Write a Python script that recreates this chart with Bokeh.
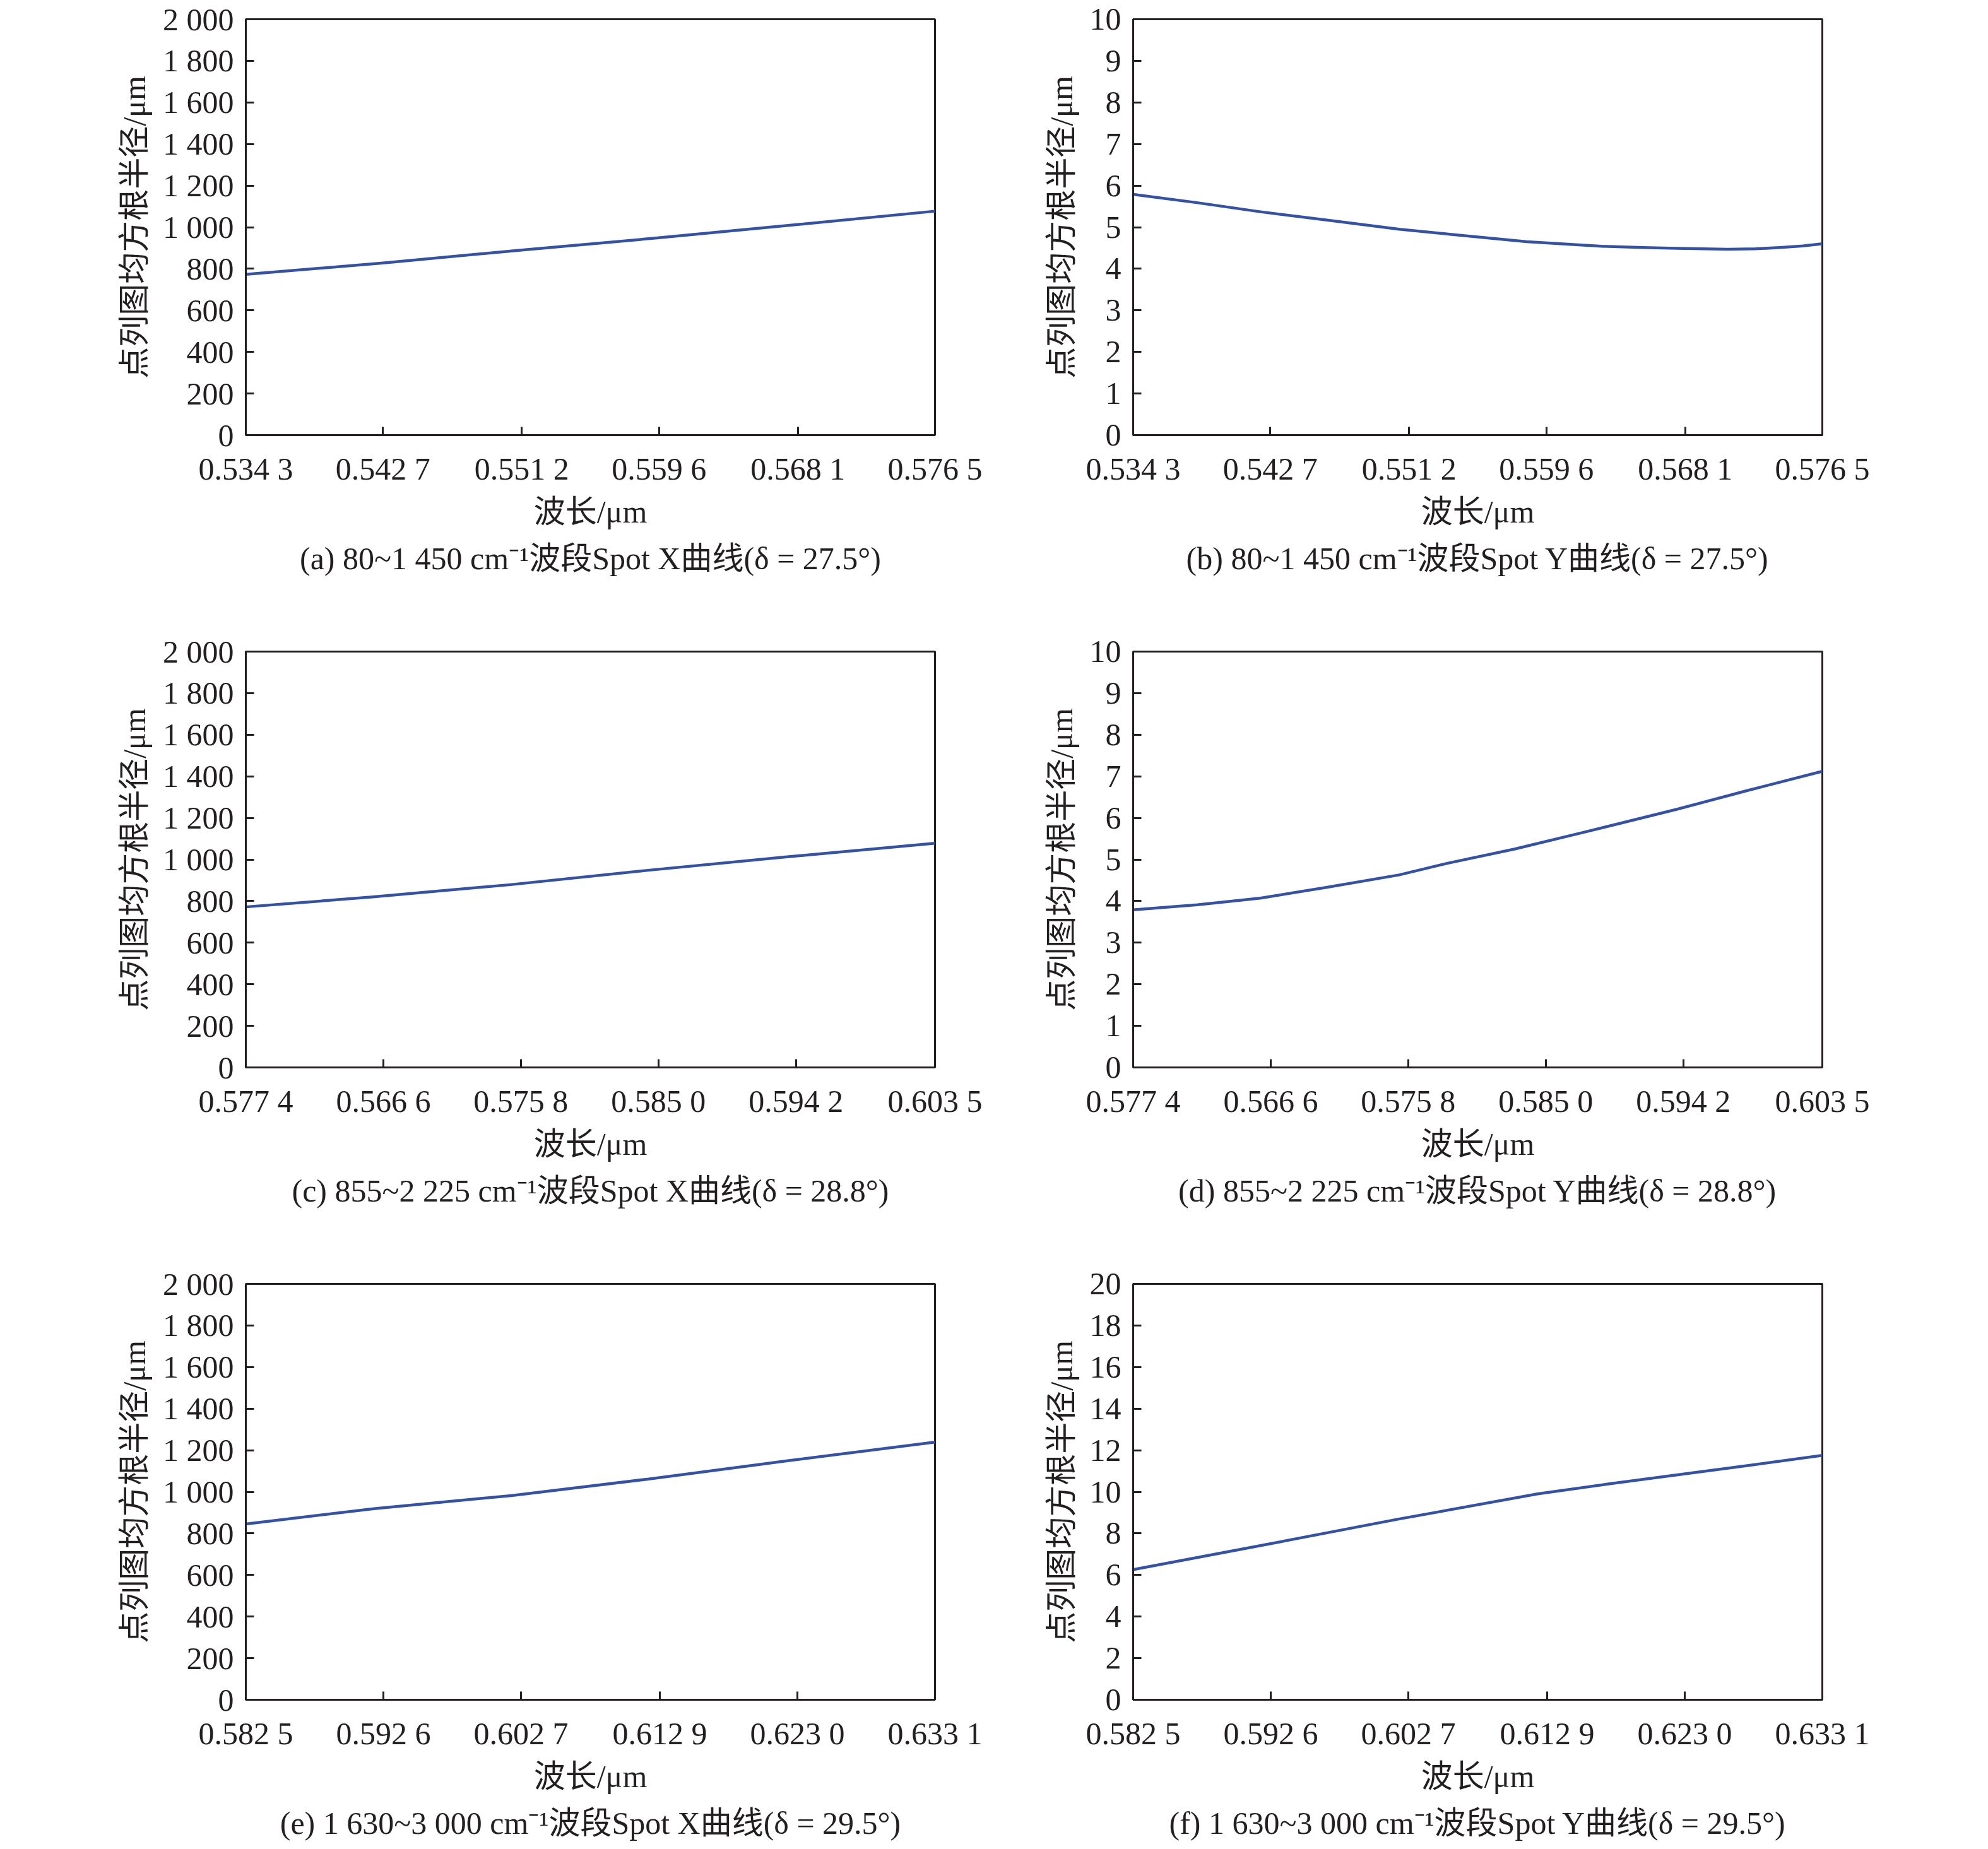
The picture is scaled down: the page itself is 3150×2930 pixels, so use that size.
from bokeh.plotting import figure
from bokeh.models import Range1d, FixedTicker, Title
from bokeh.layouts import column, row
from bokeh.embed import file_html
from bokeh.resources import INLINE

# ---------------- data ----------------
y_axis_label = "点列图均方根半径/μm"
x_axis_label = "波长/μm"

# band 1 (a, b)
ticks_1 = [0.5343, 0.5427, 0.5512, 0.5596, 0.5681, 0.5765]
tick_labels_1 = ["0.534 3", "0.542 7", "0.551 2", "0.559 6", "0.568 1", "0.576 5"]
# band 2 (c, d)
ticks_2 = [0.5574, 0.5666, 0.5758, 0.5850, 0.5942, 0.6035]
tick_labels_2 = ["0.577 4", "0.566 6", "0.575 8", "0.585 0", "0.594 2", "0.603 5"]
# band 3 (e, f)
ticks_3 = [0.5825, 0.5926, 0.6027, 0.6129, 0.6230, 0.6331]
tick_labels_3 = ["0.582 5", "0.592 6", "0.602 7", "0.612 9", "0.623 0", "0.633 1"]

y_ticks_x = [0, 200, 400, 600, 800, 1000, 1200, 1400, 1600, 1800, 2000]
y_labels_x = ["0", "200", "400", "600", "800", "1 000", "1 200", "1 400", "1 600", "1 800", "2 000"]
y_ticks_10 = [0, 1, 2, 3, 4, 5, 6, 7, 8, 9, 10]
y_labels_10 = [str(v) for v in y_ticks_10]
y_ticks_20 = [0, 2, 4, 6, 8, 10, 12, 14, 16, 18, 20]
y_labels_20 = [str(v) for v in y_ticks_20]

# (a) Spot X, 80~1 450 cm-1
a_wl = [0.5343, 0.5427, 0.5512, 0.5596, 0.5681, 0.5765]
a_rms = [773, 828, 890, 949, 1013, 1077]
# (b) Spot Y, 80~1 450 cm-1
b_wl = [0.5343, 0.5382, 0.5421, 0.5464, 0.5506, 0.5537, 0.5584, 0.5630, 0.5655, 0.5676,
        0.5692, 0.5707, 0.5724, 0.5739, 0.5753, 0.5765]
b_rms = [5.79, 5.59, 5.37, 5.16, 4.95, 4.83, 4.65, 4.54, 4.51, 4.49,
         4.48, 4.47, 4.48, 4.51, 4.55, 4.60]
# (c) Spot X, 855~2 225 cm-1
c_wl = [0.5574, 0.5659, 0.5751, 0.5843, 0.5935, 0.6035]
c_rms = [772, 820, 879, 948, 1012, 1078]
# (d) Spot Y, 855~2 225 cm-1
d_wl = [0.5574, 0.5617, 0.5659, 0.5705, 0.5752, 0.5783, 0.5829, 0.5875, 0.5938, 0.5984, 0.6035]
d_rms = [3.79, 3.91, 4.07, 4.34, 4.63, 4.90, 5.25, 5.65, 6.21, 6.65, 7.12]
# (e) Spot X, 1 630~3 000 cm-1
e_wl = [0.5825, 0.5919, 0.6020, 0.6120, 0.6222, 0.6331]
e_rms = [845, 919, 982, 1061, 1149, 1239]
# (f) Spot Y, 1 630~3 000 cm-1
f_wl = [0.5825, 0.5919, 0.6020, 0.6122, 0.6174, 0.6224, 0.6275, 0.6331]
f_rms = [6.26, 7.42, 8.69, 9.90, 10.38, 10.81, 11.25, 11.75]

captions = [
    "(a) 80~1 450 cm⁻¹波段Spot X曲线(δ = 27.5°)",
    "(b) 80~1 450 cm⁻¹波段Spot Y曲线(δ = 27.5°)",
    "(c) 855~2 225 cm⁻¹波段Spot X曲线(δ = 28.8°)",
    "(d) 855~2 225 cm⁻¹波段Spot Y曲线(δ = 28.8°)",
    "(e) 1 630~3 000 cm⁻¹波段Spot X曲线(δ = 29.5°)",
    "(f) 1 630~3 000 cm⁻¹波段Spot Y曲线(δ = 29.5°)",
]

# ---------------- style ----------------
FONT = "'Liberation Serif', 'Noto Sans CJK SC'"
FS = "50px"
INK = "#231f20"
LINE = "#3551a4"
FRAME_W = 1092
FRAME_H = 659
TOP = 30


def make_panel(wl, rms, xt, xl, yt, yl, cap, left_border, right_border, bottom_border):
    p = figure(frame_width=FRAME_W, frame_height=FRAME_H,
               min_border_left=left_border, min_border_right=right_border,
               min_border_top=TOP, min_border_bottom=bottom_border,
               x_range=Range1d(xt[0], xt[-1]), y_range=Range1d(yt[0], yt[-1]),
               output_backend="svg", toolbar_location=None,
               x_axis_label=x_axis_label, y_axis_label=y_axis_label)
    p.line(wl, rms, line_color=LINE, line_width=4.5, line_join="round")
    p.grid.visible = False
    p.outline_line_color = INK
    p.outline_line_width = 3
    p.outline_line_alpha = 1
    p.background_fill_color = "white"
    p.border_fill_color = "white"
    for ax, tv, tl in ((p.xaxis[0], xt, xl), (p.yaxis[0], yt, yl)):
        ax.ticker = FixedTicker(ticks=tv)
        ax.major_label_overrides = {v: s for v, s in zip(tv, tl)}
        ax.minor_tick_line_color = None
        ax.major_tick_in = 13
        ax.major_tick_out = 0
        ax.major_tick_line_width = 3
        ax.major_tick_line_color = INK
        ax.axis_line_width = 3
        ax.axis_line_color = INK
        ax.major_label_text_font = FONT
        ax.major_label_text_font_size = FS
        ax.major_label_text_color = INK
        ax.axis_label_text_font = FONT
        ax.axis_label_text_font_size = FS
        ax.axis_label_text_font_style = "normal"
        ax.axis_label_text_color = INK
    p.xaxis[0].major_label_standoff = 25
    p.xaxis[0].axis_label_standoff = 9
    p.yaxis[0].major_label_standoff = 19
    p.yaxis[0].axis_label_standoff = 14
    p.add_layout(Title(text=cap, align="center", text_font=FONT, text_font_size=FS,
                       text_font_style="normal", text_color=INK, standoff=27), "below")
    return p


panels = [
    (a_wl, a_rms, ticks_1, tick_labels_1, y_ticks_x, y_labels_x),
    (b_wl, b_rms, ticks_1, tick_labels_1, y_ticks_10, y_labels_10),
    (c_wl, c_rms, ticks_2, tick_labels_2, y_ticks_x, y_labels_x),
    (d_wl, d_rms, ticks_2, tick_labels_2, y_ticks_10, y_labels_10),
    (e_wl, e_rms, ticks_3, tick_labels_3, y_ticks_x, y_labels_x),
    (f_wl, f_rms, ticks_3, tick_labels_3, y_ticks_20, y_labels_20),
]

rows = []
for r in range(3):
    bottom = (1002 - TOP - FRAME_H) if r < 2 else 228
    figs = []
    for c in range(2):
        i = r * 2 + c
        wl, rms, xt, xl, yt, yl = panels[i]
        if c == 0:
            lb, rb = 389, 114
        else:
            lb, rb = 200, 100
        figs.append(make_panel(wl, rms, xt, xl, yt, yl, captions[i], lb, rb, bottom))
    rows.append(row(*figs, spacing=0))

layout = column(*rows, spacing=0)

open("out.html", "w").write(file_html(layout, INLINE))
